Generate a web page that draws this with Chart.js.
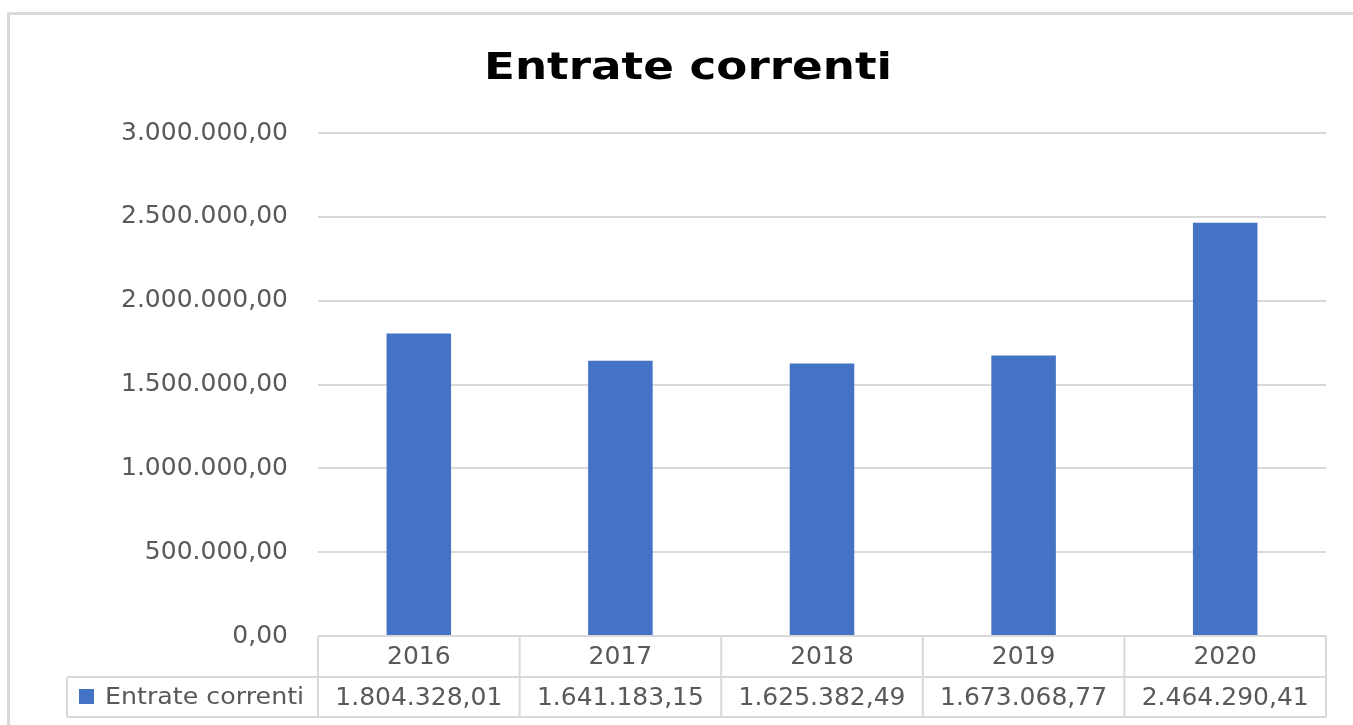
<!DOCTYPE html>
<html>
<head>
<meta charset="utf-8">
<script src="https://cdn.jsdelivr.net/npm/chart.js@4"></script>
<style>
  html, body { margin: 0; background: #fff; overflow: hidden; }
  #wrap { position: relative; width: 1353px; height: 725px; }
  canvas { display: block; }
</style>
</head>
<body>
<div id="wrap"><canvas id="graphCanvas" width="1353" height="725"></canvas></div>
<script>
// DATA
const anni = ['2016', '2017', '2018', '2019', '2020'];
const entrate = [1804328.01, 1641183.15, 1625382.49, 1673068.77, 2464290.41];
const nomeSerie = 'Entrate correnti';
const titolo = 'Entrate correnti';

const grigio = '#595959';
const linea = '#d9d9d9';
const blu = '#4472C4';

// formato italiano 1.234.567,89
function fmt(v) {
    let parts = v.toFixed(2).split('.');
    parts[0] = parts[0].replace(/\B(?=(\d{3})+(?!\d))/g, '.');
    return parts[0] + ',' + parts[1];
}

// bordo, titolo e tabella dati sotto il grafico
const tabellaPlugin = {
    id: 'tabella',
    beforeDraw(chart) {
        const ctx = chart.ctx;
        ctx.save();
        ctx.fillStyle = linea;
        // bordo sinistro e superiore
        ctx.fillRect(7, 12, 3, 713);
        ctx.fillRect(7, 12, 1346, 3);

        // titolo (un po' allargato come nell'originale)
        ctx.fillStyle = '#000';
        ctx.font = 'bold 38px "DejaVu Sans"';
        ctx.textAlign = 'center';
        ctx.textBaseline = 'alphabetic';
        ctx.translate(688, 79);
        ctx.scale(1.19, 1);
        ctx.fillText(titolo, 0, 0);
        ctx.restore();
    },
    afterDraw(chart) {
        const ctx = chart.ctx;
        const x = chart.scales.x;
        const area = chart.chartArea;
        const top = area.bottom;
        const mid = top + 41;
        const bot = mid + 40;
        const left = 67;
        const w = (area.right - area.left) / anni.length;

        ctx.save();
        ctx.strokeStyle = linea;
        ctx.lineWidth = 2;
        ctx.beginPath();
        // righe orizzontali
        ctx.moveTo(area.left, top); ctx.lineTo(area.right, top);
        ctx.moveTo(left, mid); ctx.lineTo(area.right, mid);
        ctx.moveTo(left, bot); ctx.lineTo(area.right, bot);
        // verticali
        ctx.moveTo(left, mid); ctx.lineTo(left, bot);
        for (let i = 0; i <= anni.length; i++) {
            const px = area.left + i * w;
            ctx.moveTo(px, top); ctx.lineTo(px, bot);
        }
        ctx.stroke();

        ctx.fillStyle = grigio;
        ctx.textAlign = 'center';
        ctx.textBaseline = 'middle';
        ctx.font = '25px "DejaVu Sans"';
        anni.forEach(function (a, i) {
            const cx = x.getPixelForValue(i);
            ctx.fillText(a, cx, (top + mid) / 2 + 1);
            ctx.fillText(fmt(entrate[i]), cx, (mid + bot) / 2 + 1);
        });

        // legenda
        ctx.fillStyle = blu;
        ctx.fillRect(79, (mid + bot) / 2 - 8, 15, 15);
        ctx.fillStyle = grigio;
        ctx.textAlign = 'left';
        ctx.font = '23px "DejaVu Sans"';
        ctx.translate(105, (mid + bot) / 2 + 1);
        ctx.scale(1.1, 1);
        ctx.fillText(nomeSerie, 0, 0);
        ctx.restore();
    }
};

// SETUP BLOCK
const data = {
    labels: anni,
    datasets: [{
        label: nomeSerie,
        data: entrate,
        backgroundColor: blu,
        categoryPercentage: 1,
        barPercentage: 0.32
    }]
};

// CONFIG BLOCK
const config = {
    type: 'bar',
    data,
    options: {
        responsive: false,
        animation: false,
        layout: { padding: { left: 0, right: 27, top: 133, bottom: 89 } },
        plugins: {
            legend: { display: false },
            tooltip: { enabled: false },
            title: { display: false }
        },
        scales: {
            x: { display: false },
            y: {
                min: 0,
                max: 3000000,
                afterFit: function (scale) { scale.width = 318; },
                border: { display: false },
                grid: { color: linea, lineWidth: 2, drawTicks: false },
                ticks: {
                    stepSize: 500000,
                    padding: 30,
                    color: grigio,
                    font: { family: 'DejaVu Sans', size: 25 },
                    callback: function (v) { return fmt(v); }
                }
            }
        }
    },
    plugins: [tabellaPlugin]
};

// RENDER BLOCK
const graphCanvas = new Chart(
    document.getElementById('graphCanvas').getContext('2d'),
    config
);
</script>
</body>
</html>
